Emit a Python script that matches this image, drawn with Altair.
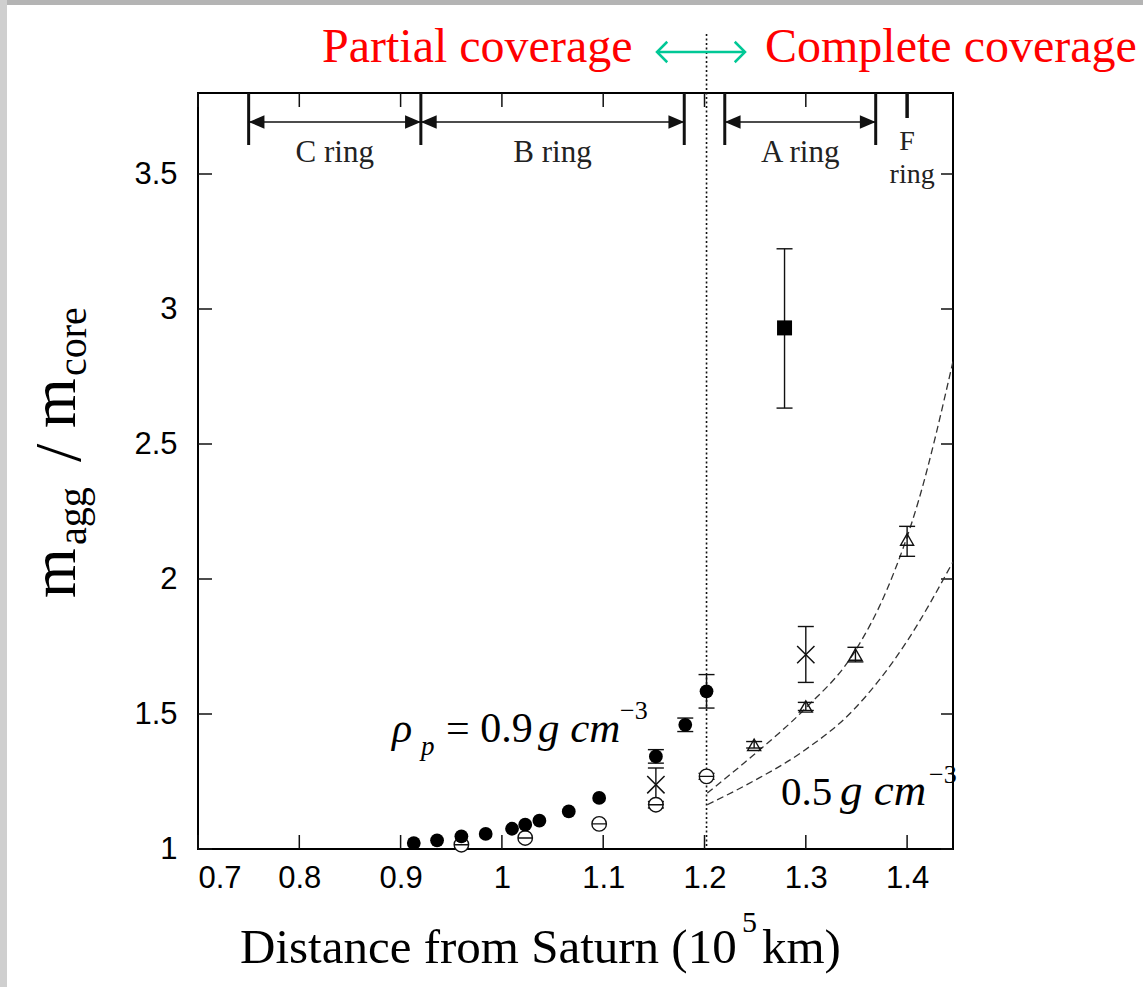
import altair as alt
import pandas as pd

# ---------------- data ----------------
# rho_p = 0.9 g cm^-3, partial coverage (filled circles)
fill_x = [0.913, 0.936, 0.960, 0.984, 1.010, 1.023, 1.037, 1.066, 1.096, 1.152, 1.181, 1.202]
fill_y = [1.022, 1.032, 1.047, 1.056, 1.075, 1.090, 1.105, 1.139, 1.189, 1.343, 1.460, 1.584]
# open circles with bar
open_x = [0.960, 1.023, 1.096, 1.152, 1.202]
open_y = [1.016, 1.041, 1.093, 1.164, 1.269]
# crosses
cross_x = [1.152, 1.300]
cross_y = [1.238, 1.720]
# open triangles
tri_x = [1.249, 1.300, 1.349, 1.400]
tri_y = [1.386, 1.528, 1.720, 2.146]
# filled square
sq_x = [1.279]
sq_y = [2.930]
# error bars (x, low, high)
err_x = [1.152, 1.181, 1.202, 1.152, 1.202, 1.152, 1.300, 1.249, 1.300, 1.349, 1.400, 1.279]
err_lo = [1.318, 1.435, 1.522, 1.152, 1.258, 1.165, 1.617, 1.374, 1.513, 1.693, 2.084, 2.633]
err_hi = [1.368, 1.485, 1.646, 1.176, 1.280, 1.300, 1.824, 1.398, 1.543, 1.747, 2.195, 3.223]
# dashed model curves
cur_hi_x = [1.2027, 1.249, 1.298, 1.349, 1.380, 1.4116, 1.4453]
cur_hi_y = [1.207, 1.350, 1.515, 1.735, 1.960, 2.294, 2.806]
cur_lo_x = [1.2027, 1.25, 1.295, 1.347, 1.400, 1.4453]
cur_lo_y = [1.164, 1.255, 1.356, 1.515, 1.770, 2.064]
# ring boundaries
ring_start = [0.75, 0.92, 1.22]
ring_end = [0.92, 1.18, 1.369]
ring_names = ["C ring", "B ring", "A ring"]
ring_bounds = [0.75, 0.92, 1.18, 1.22, 1.369]
f_ring = [1.40]
coverage_split = [1.202]
x_ticks = [0.7, 0.8, 0.9, 1.0, 1.1, 1.2, 1.3, 1.4]
y_ticks = [1.0, 1.5, 2.0, 2.5, 3.0, 3.5]

# ---------------- layout ----------------
W, H = 755, 756
LEFT, TOP = 198, 93
INK = "#111111"

xs = alt.Scale(domain=[0.7, 1.4453], nice=False, zero=False)
ys = alt.Scale(domain=[1.0, 3.8], nice=False, zero=False)

X = lambda f: alt.X(f, type="quantitative", scale=xs,
                    axis=alt.Axis(values=x_ticks, format="~g", title=None, ticks=False, tickSize=0,
                                  domain=False, grid=False, labelFont="Liberation Sans",
                                  labelFontSize=31, labelColor="black", labelPadding=14))
Y = lambda f: alt.Y(f, type="quantitative", scale=ys,
                    axis=alt.Axis(values=y_ticks, format="~g", title=None, ticks=False, tickSize=0,
                                  domain=False, grid=False, labelFont="Liberation Sans",
                                  labelFontSize=31, labelColor="black", labelPadding=21))

one = alt.Data(values=[{}])


def txt(s, x, y, size, font="Liberation Serif", style="normal", angle=0, color="black", align="left"):
    return alt.Chart(one).mark_text(
        text=s, fontSize=size, font=font, fontStyle=style, angle=angle, color=color,
        align=align, baseline="alphabetic"
    ).encode(x=alt.value(x - LEFT), y=alt.value(y - TOP))


df_fill = pd.DataFrame({"x": fill_x, "y": fill_y})
df_open = pd.DataFrame({"x": open_x, "y": open_y})
df_cross = pd.DataFrame({"x": cross_x, "y": cross_y})
df_tri = pd.DataFrame({"x": tri_x, "y": tri_y})
df_sq = pd.DataFrame({"x": sq_x, "y": sq_y})
df_err = pd.DataFrame({"x": err_x, "lo": err_lo, "hi": err_hi})
df_hi = pd.DataFrame({"x": cur_hi_x, "y": cur_hi_y})
df_lo = pd.DataFrame({"x": cur_lo_x, "y": cur_lo_y})
df_rings = pd.DataFrame({"s": ring_start, "e": ring_end, "name": ring_names,
                         "mid": [(a + b) / 2 for a, b in zip(ring_start, ring_end)]})
df_bounds = pd.DataFrame({"x": ring_bounds})
df_f = pd.DataFrame({"x": f_ring})
df_split = pd.DataFrame({"x": coverage_split})
df_xt = pd.DataFrame({"x": x_ticks})
df_yt = pd.DataFrame({"y": y_ticks})

layers = []

# slide border artefacts
layers.append(alt.Chart(one).mark_rect(color="#b4b4b4").encode(
    x=alt.value(-LEFT), x2=alt.value(1143 - LEFT), y=alt.value(-TOP), y2=alt.value(-TOP + 5)))
layers.append(alt.Chart(one).mark_rect(color="#cfcfcf").encode(
    x=alt.value(-LEFT), x2=alt.value(-LEFT + 7), y=alt.value(-TOP), y2=alt.value(987 - TOP)))

# axes (labels only) + inward ticks
layers.append(alt.Chart(df_xt).mark_rule(color=INK, strokeWidth=1.5).encode(
    x=X("x"), y=alt.value(H), y2=alt.value(H - 14)))
layers.append(alt.Chart(df_xt).mark_rule(color=INK, strokeWidth=1.5).encode(
    x=alt.X("x:Q", scale=xs), y=alt.value(0), y2=alt.value(14)))
layers.append(alt.Chart(df_yt).mark_rule(color=INK, strokeWidth=1.5).encode(
    y=Y("y"), x=alt.value(0), x2=alt.value(14)))
layers.append(alt.Chart(df_yt).mark_rule(color=INK, strokeWidth=1.5).encode(
    y=alt.Y("y:Q", scale=ys), x=alt.value(W - 12), x2=alt.value(W)))

# ring annotations
layers.append(alt.Chart(df_bounds).mark_rule(color=INK, strokeWidth=3).encode(
    x=alt.X("x:Q", scale=xs), y=alt.value(0), y2=alt.value(52)))
layers.append(alt.Chart(df_f).mark_rule(color=INK, strokeWidth=3.5).encode(
    x=alt.X("x:Q", scale=xs), y=alt.value(0), y2=alt.value(25)))
layers.append(alt.Chart(df_rings).mark_rule(color=INK, strokeWidth=1.5).encode(
    x=alt.X("s:Q", scale=xs), x2="e:Q", y=alt.value(29)))
layers.append(alt.Chart(df_rings).mark_point(shape="M0,0L-1,-0.42L-1,0.42Z", size=1000, filled=True,
                                             color=INK, opacity=1).encode(
    x=alt.X("e:Q", scale=xs), y=alt.value(29)))
layers.append(alt.Chart(df_rings).mark_point(shape="M0,0L1,-0.42L1,0.42Z", size=1000, filled=True,
                                             color=INK, opacity=1).encode(
    x=alt.X("s:Q", scale=xs), y=alt.value(29)))
layers.append(alt.Chart(df_rings).mark_text(font="Liberation Serif", fontSize=31, color="#222",
                                            baseline="alphabetic").encode(
    x=alt.X("mid:Q", scale=xs), y=alt.value(69), text="name:N"))
layers.append(alt.Chart(df_f).mark_text(text="F", font="Liberation Serif", fontSize=28, color="#222",
                                        baseline="alphabetic").encode(
    x=alt.X("x:Q", scale=xs), y=alt.value(57)))
layers.append(alt.Chart(df_f).mark_text(text="ring", font="Liberation Serif", fontSize=28, color="#222",
                                        baseline="alphabetic", dx=5).encode(
    x=alt.X("x:Q", scale=xs), y=alt.value(90)))

# coverage boundary dotted line
layers.append(alt.Chart(df_split).mark_rule(color=INK, strokeWidth=1.6, strokeDash=[2, 2.5]).encode(
    x=alt.X("x:Q", scale=xs), y=alt.value(-59), y2=alt.value(H)))

# dashed model curves
for d in (df_hi, df_lo):
    layers.append(alt.Chart(d).mark_line(color="#333", strokeWidth=1.3, strokeDash=[7, 4],
                                         interpolate="monotone", clip=True).encode(
        x=alt.X("x:Q", scale=xs), y=alt.Y("y:Q", scale=ys)))

# error bars and caps
layers.append(alt.Chart(df_err).mark_rule(color=INK, strokeWidth=1.4).encode(
    x=alt.X("x:Q", scale=xs), y=alt.Y("lo:Q", scale=ys), y2="hi:Q"))
for f in ("lo", "hi"):
    layers.append(alt.Chart(df_err).mark_point(shape="M-1,0L1,0", size=256, filled=False,
                                               color=INK, strokeWidth=1.4, opacity=1).encode(
        x=alt.X("x:Q", scale=xs), y=alt.Y(f + ":Q", scale=ys)))

# markers
layers.append(alt.Chart(df_open).mark_point(
    shape="M-1,0A1,1 0 1,1 1,0A1,1 0 1,1 -1,0ZM-1,0L1,0", size=210, filled=False,
    fill="white", fillOpacity=1, stroke=INK, strokeWidth=1.4, opacity=1).encode(
    x=alt.X("x:Q", scale=xs), y=alt.Y("y:Q", scale=ys)))
layers.append(alt.Chart(df_fill).mark_circle(size=190, color="black", opacity=1).encode(
    x=alt.X("x:Q", scale=xs), y=alt.Y("y:Q", scale=ys)))
layers.append(alt.Chart(df_cross).mark_point(shape="M-1,-1L1,1M-1,1L1,-1", size=300, filled=False,
                                             color=INK, strokeWidth=1.5, opacity=1).encode(
    x=alt.X("x:Q", scale=xs), y=alt.Y("y:Q", scale=ys)))
layers.append(alt.Chart(df_tri).mark_point(shape="triangle-up", size=170, filled=False,
                                           color=INK, strokeWidth=1.4, opacity=1).encode(
    x=alt.X("x:Q", scale=xs), y=alt.Y("y:Q", scale=ys)))
layers.append(alt.Chart(df_sq).mark_square(size=225, color="black", opacity=1).encode(
    x=alt.X("x:Q", scale=xs), y=alt.Y("y:Q", scale=ys)))

# title annotations
RED = "#ff0000"
GREEN = "#00c896"
layers.append(txt("Partial coverage", 322, 62, 48, color=RED))
layers.append(txt("Complete coverage", 765, 62, 48, color=RED))
layers.append(alt.Chart(one).mark_rule(color=GREEN, strokeWidth=2.5).encode(
    x=alt.value(657 - LEFT), x2=alt.value(745 - LEFT), y=alt.value(52 - TOP)))
layers.append(alt.Chart(one).mark_point(shape="M1,-1L0,0L1,1", size=420, filled=False, color=GREEN,
                                        strokeWidth=2.5, opacity=1).encode(
    x=alt.value(657 - LEFT), y=alt.value(52 - TOP)))
layers.append(alt.Chart(one).mark_point(shape="M-1,-1L0,0L-1,1", size=420, filled=False, color=GREEN,
                                        strokeWidth=2.5, opacity=1).encode(
    x=alt.value(745 - LEFT), y=alt.value(52 - TOP)))

# density annotations
layers.append(txt("ρ", 392, 742, 42, style="italic"))
layers.append(txt("p", 421, 755, 27, style="italic"))
layers.append(txt("= 0.9", 446, 742, 42))
layers.append(txt("g cm", 538, 742, 43, style="italic"))
layers.append(txt("−3", 620, 719, 26))
layers.append(txt("0.5", 781, 805, 41))
layers.append(txt("g cm", 840, 805, 45, style="italic"))
layers.append(txt("−3", 929, 783, 26))

# axis titles
layers.append(txt("Distance from Saturn (10", 240, 963, 49))
layers.append(txt("5", 742, 932, 30))
layers.append(txt("km)", 762, 963, 49))
layers.append(txt("m", 75, 598, 64, angle=270))
layers.append(txt("agg", 86, 545, 40, angle=270))
layers.append(txt("/", 80, 462, 66, angle=270))
layers.append(txt("m", 75, 428, 64, angle=270))
layers.append(txt("core", 86, 376, 40, angle=270))

chart = alt.layer(*layers).properties(
    width=W, height=H,
    padding={"left": LEFT, "top": TOP, "right": 1143 - LEFT - W, "bottom": 987 - TOP - H},
    autosize=alt.AutoSizeParams(type="none"),
    background="white",
).configure_view(stroke="black", strokeWidth=2)

chart.save("out.html", embed_options={"renderer": "svg", "actions": False})
